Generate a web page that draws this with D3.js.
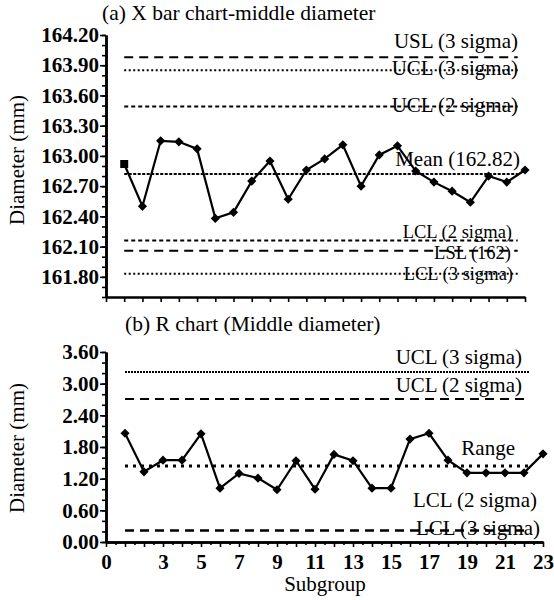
<!DOCTYPE html>
<html>
<head>
<meta charset="utf-8">
<script src="https://cdn.jsdelivr.net/npm/d3@7"></script>
<style>
  body { margin: 0; background: #fff; }
  svg text { font-family: "Liberation Serif", Tinos, "Times New Roman", Times, "DejaVu Serif", serif; fill: #000; }
</style>
</head>
<body>
<div id="chart"></div>
<script>
// Data
var subgroups = [1, 2, 3, 4, 5, 6, 7, 8, 9, 10, 11, 12, 13, 14, 15, 16, 17, 18, 19, 20, 21, 22, 23];
var xbarValues = [162.92, 162.50, 163.15, 163.14, 163.07, 162.38, 162.44, 162.75, 162.95, 162.57, 162.86, 162.97,
  163.11, 162.70, 163.01, 163.10, 162.85, 162.74, 162.65, 162.54, 162.80, 162.74, 162.86];
var rangeValues = [2.06, 1.33, 1.55, 1.55, 2.05, 1.02, 1.30, 1.21, 0.99, 1.54, 1.00, 1.66,
  1.54, 1.02, 1.02, 1.95, 2.06, 1.55, 1.31, 1.31, 1.31, 1.31, 1.67];

var xbarLimitNames = ['USL (3 sigma)', 'UCL (3 sigma)', 'UCL (2 sigma)', 'Mean (162.82)', 'LCL (2 sigma)', 'LSL (162)', 'LCL (3 sigma)'];
var xbarLimitValues = [163.98, 163.85, 163.49, 162.82, 162.16, 162.06, 161.83];
var rangeLimitNames = ['UCL (3 sigma)', 'UCL (2 sigma)', 'Range', 'LCL (2 sigma)', 'LCL (3 sigma)'];
var rangeLimitValues = [3.22, 2.71, 1.44, 0.22, 0.0];

var xbarTicks = [161.8, 162.1, 162.4, 162.7, 163.0, 163.3, 163.6, 163.9, 164.2];
var rangeTicks = [0, 0.6, 1.2, 1.8, 2.4, 3.0, 3.6];
var subgroupTicks = [0, 3, 5, 7, 9, 11, 13, 15, 17, 19, 21, 23];

// line styles / label placement (layout, not data)
var xbarLineStyle = [
  { dash: '9,6', end: 22.6, lx: 518, dy: -9, fs: 21 },
  { dash: '2,2.5', end: 22.6, lx: 518, dy: 5, fs: 21 },
  { dash: '4,3', end: 22.6, lx: 518, dy: 5, fs: 21 },
  { dash: '3,1.5', end: 22.6, lx: 520, dy: -8, fs: 21 },
  { dash: '4,3', end: 22.6, lx: 512, dy: -3, fs: 18.5 },
  { dash: '9,6', end: 22.6, lx: 511, dy: 8, fs: 18.5 },
  { dash: '2,2.5', end: 22.6, lx: 513, dy: 6, fs: 18.5 }
];
var rangeLineStyle = [
  { dash: '2,1', end: 22.3, lx: 522, dy: -8, w: 2, fs: 21 },
  { dash: '9,6', end: 22.3, lx: 522, dy: -7, w: 2, fs: 21 },
  { dash: '3,5', end: 22.3, lx: 515, dy: -11, w: 3, fs: 21 },
  { dash: '9,6', end: 22.3, lx: 537, dy: -23, w: 2.5, fs: 21 },
  { dash: '9,6', end: 0, lx: 540, dy: -7, w: 0, fs: 21 }
];

var svg = d3.select('#chart').append('svg').attr('width', 554).attr('height', 600);

const styleAxis = (g) => {
  g.attr('font-family', null);
  g.select('.domain').attr('stroke-width', 2.5);
  g.selectAll('.tick line').attr('stroke-width', 1.6);
  g.selectAll('.tick text').attr('font-size', 21).attr('font-weight', 'bold');
};

const diamond = d3.symbol(d3.symbolSquare, 42);
const square = d3.symbol(d3.symbolSquare, 64);

const drawPanel = (opt) => {
  const x = opt.x, y = opt.y;
  const g = svg.append('g');

  // limit lines
  opt.limitValues.forEach((v, i) => {
    const st = opt.styles[i];
    if (st.end > 0) {
      g.append('line')
        .attr('x1', x(1)).attr('x2', x(st.end))
        .attr('y1', y(v)).attr('y2', y(v))
        .attr('stroke', '#000')
        .attr('stroke-width', st.w || 2)
        .attr('stroke-dasharray', st.dash);
    }
  });

  // series
  const line = d3.line().x((d, i) => x(subgroups[i])).y((d) => y(d));
  g.append('path').datum(opt.values)
    .attr('d', line).attr('fill', 'none')
    .attr('stroke', '#000').attr('stroke-width', 2.2);

  g.selectAll('.pt').data(opt.values).join('path')
    .attr('class', 'pt')
    .attr('d', (d, i) => (opt.firstSquare && i === 0 ? square() : diamond()))
    .attr('transform', (d, i) => 'translate(' + x(subgroups[i]) + ',' + y(d) + ')' +
      (opt.firstSquare && i === 0 ? '' : ' rotate(45)'))
    .attr('fill', '#000');

  // line labels
  opt.limitNames.forEach((name, i) => {
    const st = opt.styles[i];
    g.append('text')
      .attr('x', st.lx).attr('y', y(opt.limitValues[i]) + st.dy)
      .attr('text-anchor', 'end').attr('font-size', st.fs)
      .text(name);
  });

  // axes
  const yMinor = g.append('g').attr('transform', 'translate(' + opt.x0 + ',0)')
    .call(d3.axisLeft(y).tickValues(opt.minorY).tickFormat('').tickSize(4).tickSizeOuter(0));
  styleAxis(yMinor);
  const yAxis = g.append('g').attr('transform', 'translate(' + opt.x0 + ',0)')
    .call(d3.axisLeft(y).tickValues(opt.yTicks).tickFormat(d3.format('.2f')).tickSize(6).tickPadding(1).tickSizeOuter(0));
  styleAxis(yAxis);

  if (opt.minorX) {
    const xMinor = g.append('g').attr('transform', 'translate(0,' + opt.y0 + ')')
      .call(d3.axisBottom(x).tickValues(opt.minorX).tickFormat('').tickSize(3).tickSizeOuter(0));
    styleAxis(xMinor);
  }
  const xAxis = g.append('g').attr('transform', 'translate(0,' + opt.y0 + ')')
    .call(d3.axisBottom(x).tickValues(opt.xTicks).tickFormat(opt.xFormat).tickSize(5).tickPadding(8).tickSizeOuter(0));
  styleAxis(xAxis);
  if (opt.xLabelTicks) {
    const xLab = g.append('g').attr('transform', 'translate(0,' + opt.y0 + ')')
      .call(d3.axisBottom(x).tickValues(opt.xLabelTicks).tickSize(0).tickPadding(12).tickSizeOuter(0));
    xLab.select('.domain').remove();
    styleAxis(xLab);
  }

  // titles
  g.append('text').attr('x', opt.titleX).attr('y', opt.titleY)
    .attr('font-size', 21.5).text(opt.title);
  g.append('text')
    .attr('transform', 'translate(24,' + opt.yTitleY + ') rotate(-90)')
    .attr('text-anchor', 'middle').attr('font-size', 21)
    .text('Diameter (mm)');
};

// (a) X bar chart
var xTop = d3.scaleLinear().domain([0, 23]).range([106, 525]);
var yTop = d3.scaleLinear().domain([161.6, 164.2]).range([297, 35]);
drawPanel({
  x: xTop, y: yTop, x0: 106, y0: 297,
  values: xbarValues, firstSquare: true,
  limitValues: xbarLimitValues, limitNames: xbarLimitNames, styles: xbarLineStyle,
  yTicks: xbarTicks, minorY: d3.range(161.6, 164.25, 0.1),
  xTicks: d3.range(0, 24), xFormat: '',
  title: '(a) X bar chart-middle diameter', titleX: 102, titleY: 20, yTitleY: 160
});

// (b) R chart
var xBot = d3.scaleLinear().domain([0, 23]).range([106, 543]);
var yBot = d3.scaleLinear().domain([0, 3.6]).range([542, 352]);
drawPanel({
  x: xBot, y: yBot, x0: 106, y0: 542,
  values: rangeValues, firstSquare: false,
  limitValues: rangeLimitValues, limitNames: rangeLimitNames, styles: rangeLineStyle,
  yTicks: rangeTicks, minorY: d3.range(0, 3.65, 0.2),
  xTicks: d3.range(0, 24), xFormat: '', minorX: d3.range(0.5, 23, 1),
  xLabelTicks: subgroupTicks,
  title: '(b) R chart (Middle diameter)', titleX: 125, titleY: 331, yTitleY: 448
});

svg.append('text').attr('x', 325).attr('y', 591)
  .attr('text-anchor', 'middle').attr('font-size', 21)
  .text('Subgroup');
</script>
</body>
</html>
